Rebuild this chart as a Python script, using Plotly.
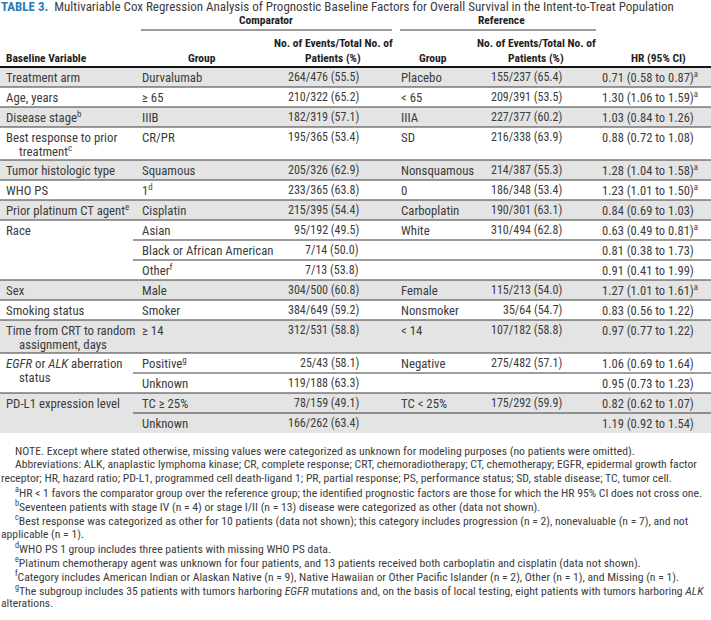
import plotly.graph_objects as go

W, H = 711, 620

# ---------------- data ----------------
title_label = "TABLE 3."
title_text = ("Multivariable Cox Regression Analysis of Prognostic Baseline Factors "
              "for Overall Survival in the Intent-to-Treat Population")

header_spanners = ["Comparator", "Reference"]
header_cols = ["Baseline Variable", "Group", "No. of Events/Total No. of<br>Patients (%)",
               "Group", "No. of Events/Total No. of<br>Patients (%)", "HR (95% CI)"]

variables = ["Treatment arm", "Age, years", "Disease stage<sup>b</sup>", "Best response to prior",
             "Tumor histologic type", "WHO PS", "Prior platinum CT agent<sup>e</sup>", "Race",
             "Sex", "Smoking status", "Time from CRT to random",
             "<i>EGFR</i> or <i>ALK</i> aberration", "PD-L1 expression level"]
variables_line2 = ["", "", "", "treatment<sup>c</sup>", "", "", "", "", "", "",
                   "assignment, days", "status", ""]
subgroup_counts = [1, 1, 1, 1, 1, 1, 1, 3, 1, 1, 1, 2, 2]

comp_groups = ["Durvalumab", "≥ 65", "IIIB", "CR/PR", "Squamous", "1<sup>d</sup>", "Cisplatin",
               "Asian", "Black or African American", "Other<sup>f</sup>", "Male", "Smoker",
               "≥ 14", "Positive<sup>g</sup>", "Unknown", "TC ≥ 25%", "Unknown"]
comp_events = ["264/476 (55.5)", "210/322 (65.2)", "182/319 (57.1)", "195/365 (53.4)",
               "205/326 (62.9)", "233/365 (63.8)", "215/395 (54.4)", "95/192 (49.5)",
               "7/14 (50.0)", "7/13 (53.8)", "304/500 (60.8)", "384/649 (59.2)",
               "312/531 (58.8)", "25/43 (58.1)", "119/188 (63.3)", "78/159 (49.1)",
               "166/262 (63.4)"]
ref_groups = ["Placebo", "< 65", "IIIA", "SD", "Nonsquamous", "0", "Carboplatin", "White",
              "", "", "Female", "Nonsmoker", "< 14", "Negative", "", "TC < 25%", ""]
ref_events = ["155/237 (65.4)", "209/391 (53.5)", "227/377 (60.2)", "216/338 (63.9)",
              "214/387 (55.3)", "186/348 (53.4)", "190/301 (63.1)", "310/494 (62.8)",
              "", "", "115/213 (54.0)", "35/64 (54.7)", "107/182 (58.8)", "275/482 (57.1)",
              "", "175/292 (59.9)", ""]
hr = [0.71, 1.30, 1.03, 0.88, 1.28, 1.23, 0.84, 0.63, 0.81, 0.91, 1.27, 0.83, 0.97, 1.06, 0.95, 0.82, 1.19]
hr_lo = [0.58, 1.06, 0.84, 0.72, 1.04, 1.01, 0.69, 0.49, 0.38, 0.41, 1.01, 0.56, 0.77, 0.69, 0.73, 0.62, 0.92]
hr_hi = [0.87, 1.59, 1.26, 1.08, 1.58, 1.50, 1.03, 0.81, 1.73, 1.99, 1.61, 1.22, 1.22, 1.64, 1.23, 1.07, 1.54]

notes = [
    ("NOTE. Except where stated otherwise, missing values were categorized as unknown for modeling purposes (no patients were omitted).", True),
    ("Abbreviations: ALK, anaplastic lymphoma kinase; CR, complete response; CRT, chemoradiotherapy; CT, chemotherapy; EGFR, epidermal growth factor", True),
    ("receptor; HR, hazard ratio; PD-L1, programmed cell death-ligand 1; PR, partial response; PS, performance status; SD, stable disease; TC, tumor cell.", False),
    ("<sup>a</sup>HR < 1 favors the comparator group over the reference group; the identified prognostic factors are those for which the HR 95% CI does not cross one.", True),
    ("<sup>b</sup>Seventeen patients with stage IV (n = 4) or stage I/II (n = 13) disease were categorized as other (data not shown).", True),
    ("<sup>c</sup>Best response was categorized as other for 10 patients (data not shown); this category includes progression (n = 2), nonevaluable (n = 7), and not", True),
    ("applicable (n = 1).", False),
    ("<sup>d</sup>WHO PS 1 group includes three patients with missing WHO PS data.", True),
    ("<sup>e</sup>Platinum chemotherapy agent was unknown for four patients, and 13 patients received both carboplatin and cisplatin (data not shown).", True),
    ("<sup>f</sup>Category includes American Indian or Alaskan Native (n = 9), Native Hawaiian or Other Pacific Islander (n = 2), Other (n = 1), and Missing (n = 1).", True),
    ("<sup>g</sup>The subgroup includes 35 patients with tumors harboring <i>EGFR</i> mutations and, on the basis of local testing, eight patients with tumors harboring <i>ALK</i>", True),
    ("alterations.", False),
]

# ---------------- styling / layout ----------------
FONT = "Roboto Condensed, DejaVu Sans Condensed, sans-serif"
TXT = "#3c3c3c"
HDR = "#1e1e1e"
GREY = "#e4e4e4"
LINE = "#3a3a3a"
BLUE = "#2a7bb8"

X_VAR, X_CG, X_CE, X_RG, X_RE, X_HR = 5, 141, 360, 400, 563, 601
X_SUBLINE = 133
TABLE_TOP = 67
ROW_H, ROW_H2 = 20, 33
WORD_SIZE = 12.8
NUM_SIZE = 12
HR_SIZE = 12.5
HDR_SIZE = 11.5
NOTE_SIZE = 11.7

fig = go.Figure()
shapes = []
ann = []


def text(x, y, s, anchor="left", size=WORD_SIZE, color=TXT, family=FONT):
    ann.append(dict(x=x, y=y, xref="x", yref="y", text=s, showarrow=False,
                    xanchor=anchor, yanchor="middle", align=anchor if anchor != "center" else "center",
                    font=dict(family=family, size=size, color=color), borderpad=0))


# title
text(0, 6, f"<span style='color:{BLUE}'><b>{title_label}</b></span>  {title_text}", size=13)

# header
text(266, 20, f"<b>{header_spanners[0]}</b>", anchor="center", color=HDR, size=HDR_SIZE)
text(501, 20, f"<b>{header_spanners[1]}</b>", anchor="center", color=HDR, size=HDR_SIZE)
shapes.append(dict(type="line", x0=141, x1=392, y0=30, y1=30, line=dict(color=LINE, width=1)))
shapes.append(dict(type="line", x0=400, x1=596, y0=30, y1=30, line=dict(color=LINE, width=1)))
hdr_pos = [(X_VAR, "left"), (202, "center"), (333, "center"), (433, "center"), (536, "center"), (658, "center")]
for (x, a), s in zip(hdr_pos, header_cols):
    if "<br>" in s:
        l1, l2 = s.split("<br>")
        text(x, 43, f"<b>{l1}</b>", anchor=a, color=HDR, size=HDR_SIZE)
        text(x, 58, f"<b>{l2}</b>", anchor=a, color=HDR, size=HDR_SIZE)
    else:
        text(x, 58, f"<b>{s}</b>", anchor=a, color=HDR, size=HDR_SIZE)

# body
y = TABLE_TOP
k = 0
for i, var in enumerate(variables):
    n = subgroup_counts[i]
    two_line = variables_line2[i] != "" and n == 1
    heights = [ROW_H2] if two_line else [ROW_H] * n
    block_h = sum(heights)
    if i % 2 == 0:
        shapes.append(dict(type="rect", x0=0, x1=W, y0=y, y1=y + block_h, fillcolor=GREY,
                           line=dict(width=0), layer="below"))
    if i > 0:
        shapes.append(dict(type="line", x0=0, x1=W, y0=y, y1=y, line=dict(color=LINE, width=1.2)))
    text(X_VAR, y + 10, var)
    if variables_line2[i]:
        text(X_VAR + 13, y + 24, variables_line2[i])
    yy = y
    for j, h in enumerate(heights):
        if j > 0:
            shapes.append(dict(type="line", x0=X_SUBLINE, x1=W, y0=yy, y1=yy,
                               line=dict(color=LINE, width=1.2)))
        ty = yy + 10
        text(X_CG, ty, comp_groups[k])
        text(X_CE, ty, comp_events[k], anchor="right", size=NUM_SIZE)
        if ref_groups[k]:
            text(X_RG, ty, ref_groups[k])
        if ref_events[k]:
            text(X_RE, ty, ref_events[k], anchor="right", size=NUM_SIZE)
        sig = hr_hi[k] < 1 or hr_lo[k] > 1
        hs = f"{hr[k]:.2f} ({hr_lo[k]:.2f} to {hr_hi[k]:.2f})" + ("<sup>a</sup>" if sig else "")
        text(X_HR, ty, hs, size=HR_SIZE)
        yy += h
        k += 1
    y += block_h

# header rule
shapes.append(dict(type="line", x0=0, x1=W, y0=TABLE_TOP, y1=TABLE_TOP, line=dict(color="#111", width=2)))

# notes
ny = 450.5
for s, indent in notes:
    text(14 if indent else 0, ny, s, size=NOTE_SIZE)
    ny += 13.9

fig.update_layout(
    width=W, height=H, margin=dict(l=0, r=0, t=0, b=0),
    paper_bgcolor="white", plot_bgcolor="white",
    xaxis=dict(range=[0, W], visible=False, fixedrange=True),
    yaxis=dict(range=[H, 0], visible=False, fixedrange=True),
    shapes=shapes, annotations=ann, showlegend=False,
)
fig.write_html("out.html", config={"displayModeBar": False},
               post_script="document.body.style.margin='0';document.body.style.padding='0';")
